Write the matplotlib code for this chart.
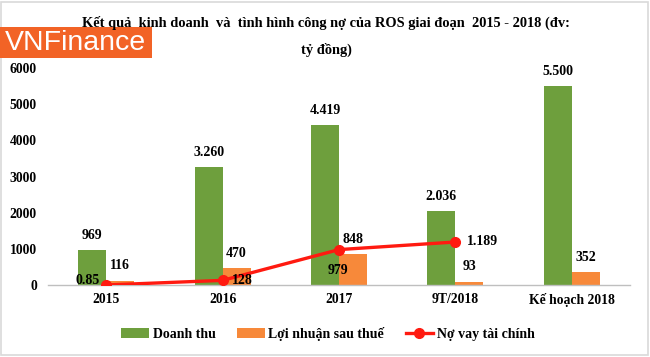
import matplotlib
matplotlib.use("Agg")
import matplotlib.pyplot as plt
from matplotlib.patches import Rectangle
import numpy as np

categories = ["2015", "2016", "2017", "9T/2018", "Kế hoạch 2018"]
doanh_thu = [969, 3260, 4419, 2036, 5500]
loi_nhuan = [116, 470, 848, 93, 352]
no_vay = [0.85, 128, 979, 1189]
yticks = [0, 1000, 2000, 3000, 4000, 5000, 6000]
title_line1 = "Kết quả  kinh doanh  và  tình hình công nợ của ROS giai đoạn  2015 - 2018 (đv:"
title_line2 = "tỷ đồng)"
legend_labels = ["Doanh thu", "Lợi nhuận sau thuế", "Nợ vay tài chính"]


def fmt(v):
    if float(v).is_integer():
        return f"{int(v):,}".replace(",", ".")
    return str(v)


SERIF = ["Liberation Serif", "DejaVu Serif"]
plt.rcParams["font.family"] = SERIF
plt.rcParams["font.weight"] = "bold"

fig = plt.figure(figsize=(6.5, 3.57), dpi=100)
fig.patch.set_facecolor("white")
ax = fig.add_axes([48 / 650, 1 - 285 / 357, 582 / 650, (285 - 68) / 357])

green = "#6E9F3D"
orange = "#F7893A"
red = "#FF1A10"

x = np.arange(len(categories))
w = 0.24
off = 0.12
b1 = ax.bar(x - off, doanh_thu, w, color=green, label=legend_labels[0], zorder=2)
b2 = ax.bar(x + off, loi_nhuan, w, color=orange, label=legend_labels[1], zorder=2)
xl = x[:len(no_vay)]
ln, = ax.plot(xl, no_vay, color=red, lw=2.4, marker="o", ms=7,
              label=legend_labels[2], zorder=4)

ax.set_xlim(-0.5, len(categories) - 0.5)
ax.set_ylim(0, 6000)
ax.set_yticks(yticks)
ax.set_yticklabels([str(t) for t in yticks])
ax.set_xticks(x)
ax.set_xticklabels(categories)
ax.tick_params(axis="both", length=0, labelsize=9.8)
ax.tick_params(axis="y", pad=8)
ax.tick_params(axis="x", pad=6)
for s in ["top", "right", "left"]:
    ax.spines[s].set_visible(False)
ax.spines["bottom"].set_color("#BFBFBF")
ax.spines["bottom"].set_linewidth(1)

fs = 10
for xi, v in zip(x, doanh_thu):
    ax.annotate(fmt(v), (xi - off, v), xytext=(0, 6), textcoords="offset points",
                ha="center", va="bottom", fontsize=fs, fontweight="bold", zorder=5)
for xi, v in zip(x, loi_nhuan):
    ax.annotate(fmt(v), (xi + off, v), xytext=(0, 6), textcoords="offset points",
                ha="center", va="bottom", fontsize=fs, fontweight="bold", zorder=5)

line_offsets = [(-5, 3, "right", "center"), (7, 0, "left", "center"),
                (-1, -15, "center", "center"), (8, 0, "left", "center")]
for xi, v, (dx, dy, ha, va) in zip(xl, no_vay, line_offsets):
    ax.annotate(fmt(v), (xi, v), xytext=(dx, dy), textcoords="offset points",
                ha=ha, va=va, fontsize=fs, fontweight="bold", zorder=6)

fig.legend(handles=[b1, b2, ln], labels=legend_labels, loc="center",
           bbox_to_anchor=(328 / 650, 1 - 334 / 357), ncol=3, frameon=False,
           prop={"family": SERIF, "weight": "bold", "size": 10},
           handlelength=2.0, handletextpad=0.25, columnspacing=1.55)

fig.text(326 / 650, 1 - 23 / 357, title_line1, ha="center", va="center",
         fontsize=10.4, fontweight="bold")
fig.text(326 / 650, 1 - 50 / 357, title_line2, ha="center", va="center",
         fontsize=10.4, fontweight="bold")

# logo
fig.patches.append(Rectangle((0, 1 - 58 / 357), 152 / 650, 31 / 357,
                             transform=fig.transFigure, facecolor="#F26326",
                             edgecolor="none", zorder=3))
fig.text(5 / 650, 1 - 42.5 / 357, "VNFinance", ha="left", va="center",
         fontsize=20.5, color="white", family=["Liberation Sans", "DejaVu Sans"],
         fontweight="normal", zorder=4)

# frame
fig.patches.append(Rectangle((1 / 650, 2 / 357), 647 / 650, 353 / 357,
                             transform=fig.transFigure, facecolor="none",
                             edgecolor="#D9D9D9", lw=1.2, zorder=1))

fig.savefig("out.png", dpi=100)
